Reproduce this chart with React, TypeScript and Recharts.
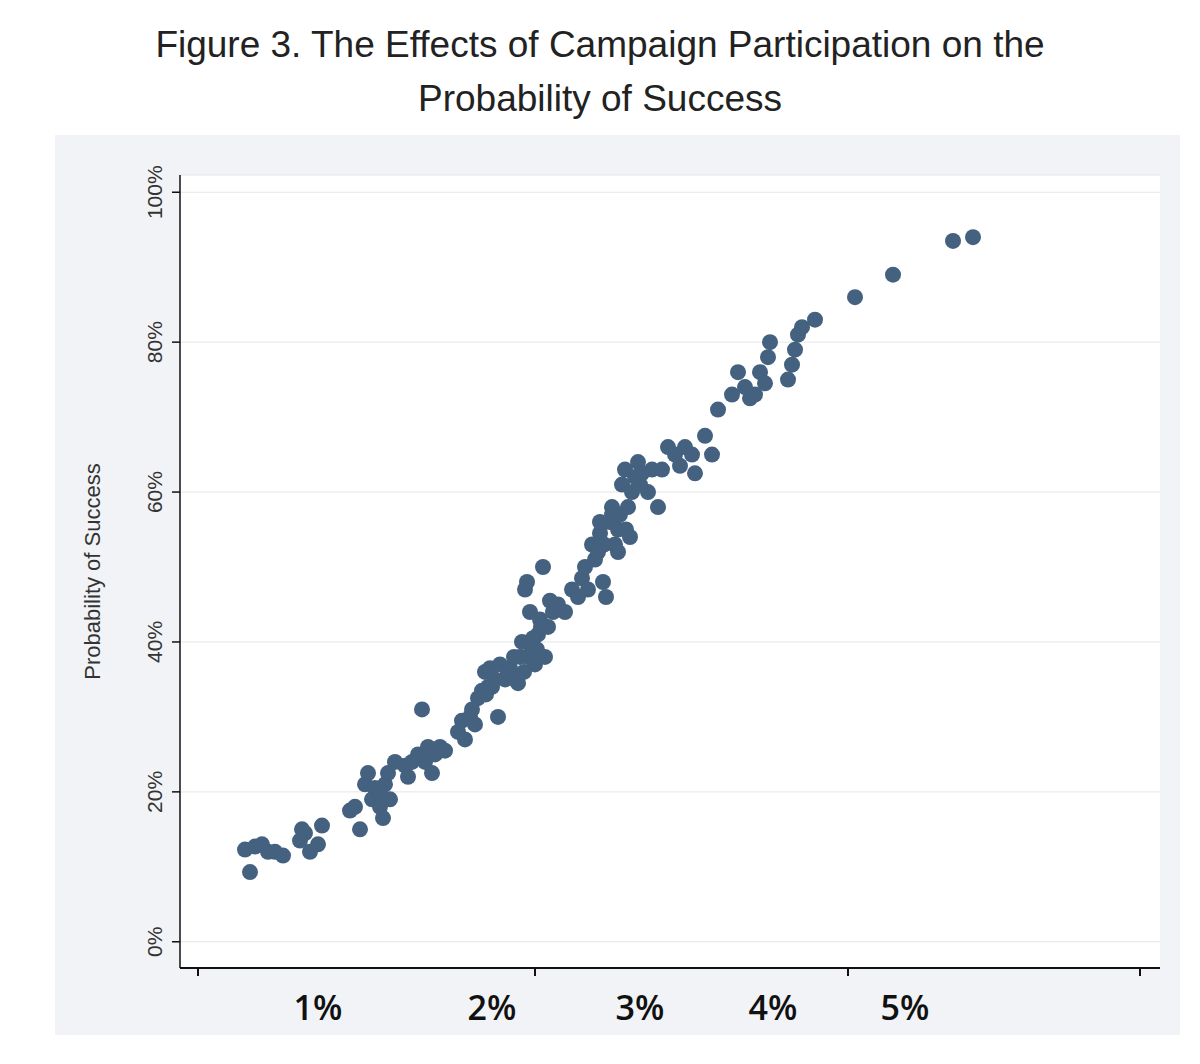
import React from 'react';
import { ScatterChart, Scatter, XAxis, YAxis, CartesianGrid } from 'recharts';

// x is on the figure's own horizontal scale (unlabelled units), y is probability in %
const pointsX = [245, 250, 255, 262, 268, 275, 283, 300, 305, 310, 318, 322, 302, 350, 355, 360, 365, 368, 372, 375, 380, 383, 385, 388, 390,
  405, 408, 412, 418, 422, 425, 428, 432, 435, 440, 445, 458, 462, 465, 470, 475, 478, 482, 485, 488, 490, 495, 498, 500, 505, 510, 515,
  518, 520, 522, 525, 527, 530, 532, 535, 538, 540, 543, 545, 548, 550, 553, 558, 565, 572, 578, 582, 585, 588, 592, 595, 598, 600, 603,
  606, 610, 612, 615, 618, 620, 622, 625, 628, 632, 635, 638, 642, 648, 652, 658, 662, 668, 675, 680, 685, 692, 695, 705, 712, 718, 732,
  738, 745, 750, 755, 760, 765, 768, 770, 788, 792, 795, 798, 802, 815, 855, 893, 953, 973,
  528, 533, 537, 524, 541, 514, 508, 492, 486, 472, 380, 395, 618, 626, 630, 612, 604, 640, 600];
const pointsY = [12.3, 9.3, 12.7, 13, 12, 12, 11.5, 13.5, 14.5, 12, 13, 15.5, 15, 17.5, 18, 15, 21, 22.5, 19, 20.5, 18, 16.5, 21, 22.5, 19,
  23.5, 22, 24, 25, 31, 24, 26, 22.5, 25, 26, 25.5, 28, 29.5, 27, 30, 29, 32.5, 33.5, 36, 34, 36.5, 35, 30, 37, 35, 36.5, 35,
  34.5, 38, 40, 47, 48, 44, 39, 37, 41, 43, 50, 38, 42, 45.5, 44, 45, 44, 47, 46, 48.5, 50, 47, 53, 51, 52, 54.5, 48,
  46, 56, 58, 53, 55, 57, 61, 63, 58, 60, 62, 64, 62.5, 60, 63, 58, 63, 66, 65, 63.5, 66, 65, 62.5, 67.5, 65, 71, 73,
  76, 74, 72.5, 73, 76, 74.5, 78, 80, 75, 77, 79, 81, 82, 83, 86, 89, 93.5, 94,
  38, 40.5, 39, 36, 42, 38, 36, 34, 33, 31, 20, 24, 52, 55, 54, 57, 53, 61, 56];
const data = pointsX.map((x, i) => ({ x, y: pointsY[i] }));

const yTicks = [0, 20, 40, 60, 80, 100];
const xTickMarks = [198, 535, 848, 1140];
const xLabelPos = [318, 492, 640, 773, 905];
const xLabels = ['1%', '2%', '3%', '4%', '5%'];
const xAllTicks = [...xTickMarks, ...xLabelPos].sort((a, b) => a - b);

const YTick = (props: any) => {
  const { x, y, payload } = props;
  return (
    <text x={x - 8} y={y} transform={`rotate(-90 ${x - 8} ${y})`} textAnchor="middle" fontSize={21}
      fontFamily="Liberation Sans, Arial" fill="#333">{`${payload.value}%`}</text>
  );
};

const XTick = (props: any) => {
  const { x, y, payload } = props;
  const li = xLabelPos.indexOf(payload.value);
  if (li >= 0) {
    return (
      <text x={x} y={y + 44} textAnchor="middle" fontSize={34} fontFamily="Open Sans" fontWeight={600} fill="#111">
        {xLabels[li]}
      </text>
    );
  }
  return <line x1={x} x2={x} y1={y} y2={y - 8} stroke="#111" strokeWidth={2} />;
};

export default function App() {
  return (
    <div style={{ position: 'relative', left: -8, top: -8, width: 1200, height: 1064, background: '#fff', fontFamily: 'Liberation Sans, Arial' }}>
      <div style={{ position: 'absolute', left: 55, top: 135, width: 1125, height: 900, background: '#f1f3f6' }} />
      <div style={{ position: 'absolute', top: 18, width: 1200, textAlign: 'center', fontSize: 37, lineHeight: '54px', color: '#222' }}>
        Figure 3. The Effects of Campaign Participation on the<br />Probability of Success
      </div>
      <div style={{ position: 'absolute', left: 0, top: 0 }}>
        <ScatterChart width={1200} height={1064} margin={{ top: 175, right: 40, bottom: 36, left: 0 }}>
          <CartesianGrid vertical={false} stroke="#e6e6e6" fill="#fff" />
          <XAxis type="number" dataKey="x" domain={[180, 1160]} ticks={xAllTicks} tick={<XTick />} tickLine={false}
            stroke="#111" strokeWidth={2} height={60} allowDataOverflow interval={0} />
          <YAxis type="number" dataKey="y" domain={[-3.5, 102.3]} ticks={yTicks} width={180} stroke="#111"
            strokeWidth={1.5} tickSize={8} tick={<YTick />} allowDataOverflow
            label={{ value: 'Probability of Success', angle: -90, position: 'insideLeft', offset: 92, dy: 0,
              style: { fontSize: 22, fill: '#333', textAnchor: 'middle' } }} />
          <Scatter data={data} fill="#44617f" isAnimationActive={false} shape={(p: any) => <circle cx={p.cx} cy={p.cy} r={8} fill="#44617f" />} />
        </ScatterChart>
      </div>
    </div>
  );
}
